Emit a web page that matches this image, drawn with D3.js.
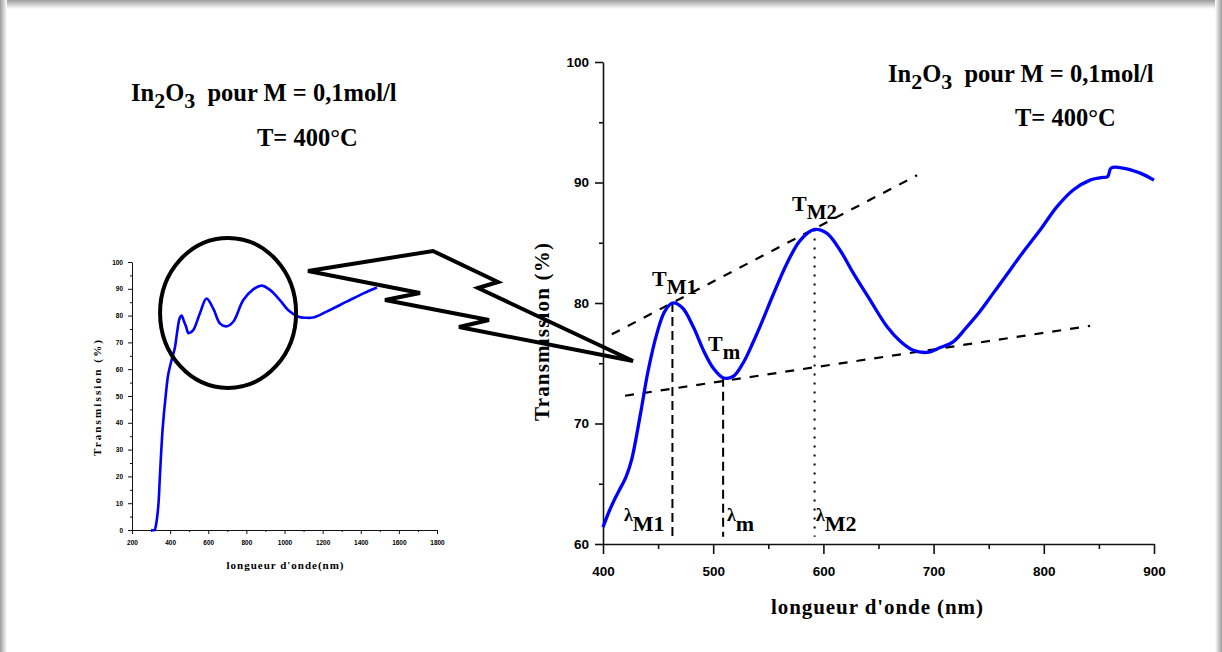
<!DOCTYPE html>
<html>
<head>
<meta charset="utf-8">
<script src="https://cdn.jsdelivr.net/npm/d3@7/dist/d3.min.js"></script>
<style>
  body { margin: 0; background: #fff; }
  svg text { font-family: "Liberation Serif", "Times New Roman", serif; font-weight: bold; fill: #000; }
  .axis .tick text { font-family: "Liberation Sans", Arial, sans-serif; font-weight: bold; }
</style>
</head>
<body>
<svg id="fig" width="1222" height="652"></svg>
<script>
// ---- data ----
// zoomed spectrum (right panel), 400-900 nm
const zoomWavelength = [400, 406, 411, 415, 421, 426, 434, 441, 449, 456, 463, 472, 482, 491, 500, 509, 518, 527, 536, 545,
  554, 567, 579, 592, 603, 615, 627, 642, 658, 670, 681, 694, 706, 718, 730, 742, 754, 766, 781, 797,
  812, 827, 842, 852, 858, 861, 872, 887, 900];
const zoomTransmission = [61.4, 62.8, 63.8, 64.5, 65.6, 67.0, 70.8, 74.4, 77.5, 79.3, 80.0, 79.6, 78.0, 76.1, 74.6, 73.8, 73.9, 75.0, 76.7, 78.6,
  80.6, 83.3, 85.2, 86.1, 85.8, 84.4, 82.5, 80.3, 78.0, 76.8, 76.1, 75.9, 76.3, 76.8, 78.0, 79.3, 80.8, 82.3, 84.2, 86.1,
  88.0, 89.4, 90.2, 90.4, 90.5, 91.2, 91.2, 90.8, 90.2];

// full spectrum (left panel)
const fullWavelength = [300, 318, 326, 338, 347, 361, 378, 390, 408, 425, 437, 450, 460, 472, 483, 496, 510, 525, 557, 591,
  627, 662, 697, 731, 784, 836, 880, 924, 976, 1020, 1073, 1110, 1151, 1221, 1326, 1414, 1485];
const fullTransmission = [0, 0, 2, 9, 21, 38, 51, 58, 63.5, 68, 74, 79, 80, 78, 76, 73.5, 73.8, 75, 81, 86.4,
  82.5, 77, 76, 77.7, 85.8, 89.8, 91.2, 89.6, 85.8, 82, 79.6, 79.2, 79.3, 81.5, 85.2, 88.3, 90.5];

// ticks
const bigXTicks = [400, 500, 600, 700, 800, 900];
const bigXMinor = [450, 550, 650, 750, 850];
const bigYTicks = [60, 70, 80, 90, 100];
const bigYMinor = [65, 75, 85, 95];
const smallXTicks = [200, 400, 600, 800, 1000, 1200, 1400, 1600, 1800];
const smallXMinor = [300, 500, 700, 900, 1100, 1300, 1500, 1700];
const smallYTicks = [0, 10, 20, 30, 40, 50, 60, 70, 80, 90, 100];
const smallYMinor = [5, 15, 25, 35, 45, 55, 65, 75, 85, 95];

// extrema and envelope lines (nm, %)
const extremaNames = ['M1', 'm', 'M2'];
const extremaWavelength = [463, 509, 592];
const extremaTransmission = [80.0, 73.8, 86.1];
const envelopeMax = [[408, 77.4], [685, 90.6]];
const envelopeMin = [[420, 72.3], [842, 78.1]];

class SpectrumChart {

  /**
   * Small axis + blue curve panel
   */
  constructor(_config, _x, _y) {
    this.config = {
      parentElement: _config.parentElement,
      left: _config.left,
      top: _config.top,
      width: _config.width,
      height: _config.height,
      xDomain: _config.xDomain,
      yDomain: _config.yDomain,
      xTicks: _config.xTicks, xMinor: _config.xMinor,
      yTicks: _config.yTicks, yMinor: _config.yMinor,
      xMajor: _config.xMajor || 10, xMinorSize: _config.xMinorSize || 5,
      yMajor: _config.yMajor || 8, yMinorSize: _config.yMinorSize || 4,
      xPad: _config.xPad || 10, yPad: _config.yPad || 6,
      tickFont: _config.tickFont || 13,
      axisWidth: _config.axisWidth || 1.5,
      lineWidth: _config.lineWidth || 3
    };
    this.xData = _x;
    this.yData = _y;
    this.initVis();
  }

  initVis() {
    let vis = this;
    const c = vis.config;

    vis.xScale = d3.scaleLinear().domain(c.xDomain).range([0, c.width]);
    vis.yScale = d3.scaleLinear().domain(c.yDomain).range([c.height, 0]);

    vis.chart = d3.select(c.parentElement).append('g')
        .attr('transform', `translate(${c.left},${c.top})`);

    // minor ticks first, then the major axis with labels
    vis.chart.append('g')
        .attr('class', 'axis minor')
        .attr('transform', `translate(0,${c.height})`)
        .call(d3.axisBottom(vis.xScale).tickValues(c.xMinor).tickSize(c.xMinorSize).tickFormat(''));
    vis.chart.append('g')
        .attr('class', 'axis minor')
        .call(d3.axisLeft(vis.yScale).tickValues(c.yMinor).tickSize(c.yMinorSize).tickFormat(''));

    vis.xAxisG = vis.chart.append('g')
        .attr('class', 'axis x-axis')
        .attr('transform', `translate(0,${c.height})`)
        .call(d3.axisBottom(vis.xScale).tickValues(c.xTicks).tickFormat(d3.format('d'))
          .tickSize(c.xMajor).tickSizeOuter(0).tickPadding(c.xPad));
    vis.yAxisG = vis.chart.append('g')
        .attr('class', 'axis y-axis')
        .call(d3.axisLeft(vis.yScale).tickValues(c.yTicks).tickFormat(d3.format('d'))
          .tickSize(c.yMajor).tickSizeOuter(0).tickPadding(c.yPad));

    vis.chart.selectAll('.axis text').attr('font-size', c.tickFont).attr('fill', '#000');
    vis.chart.selectAll('.axis line, .axis path').attr('stroke', '#111').attr('stroke-width', c.axisWidth);
    vis.chart.selectAll('.minor path').remove();
    vis.chart.selectAll('.axis').attr('font-family', null);
  }

  renderVis() {
    let vis = this;
    const pts = vis.xData.map((x, i) => [x, vis.yData[i]]);
    const line = d3.line()
        .x(d => vis.xScale(d[0]))
        .y(d => vis.yScale(d[1]))
        .curve(d3.curveCatmullRom.alpha(0.5));
    vis.chart.append('path')
        .datum(pts)
        .attr('fill', 'none')
        .attr('stroke', '#0000ff')
        .attr('stroke-width', vis.config.lineWidth)
        .attr('stroke-linejoin', 'round')
        .attr('d', line);
  }
}

const svg = d3.select('#fig');

// soft grey frame around the page
const defs = svg.append('defs');
function grad(id, x1, y1, x2, y2) {
  const g = defs.append('linearGradient').attr('id', id)
      .attr('x1', x1).attr('y1', y1).attr('x2', x2).attr('y2', y2);
  g.append('stop').attr('offset', '0%').attr('stop-color', '#9c9c9c');
  g.append('stop').attr('offset', '100%').attr('stop-color', '#ffffff');
}
grad('gTop', 0, 0, 0, 1);
grad('gLeft', 0, 0, 1, 0);
grad('gRight', 1, 0, 0, 0);
svg.append('rect').attr('width', 1222).attr('height', 652).attr('fill', '#fff');
svg.append('rect').attr('x', 0).attr('y', 0).attr('width', 1222).attr('height', 9).attr('fill', 'url(#gTop)');
svg.append('rect').attr('x', 0).attr('y', 0).attr('width', 7).attr('height', 652).attr('fill', 'url(#gLeft)');
svg.append('rect').attr('x', 1215).attr('y', 0).attr('width', 7).attr('height', 652).attr('fill', 'url(#gRight)');

// ---- right panel ----
const big = new SpectrumChart({
  parentElement: '#fig',
  left: 603, top: 62, width: 551, height: 482,
  xDomain: [400, 900], yDomain: [60, 100],
  xTicks: bigXTicks, xMinor: bigXMinor, yTicks: bigYTicks, yMinor: bigYMinor,
  xMajor: 10, xMinorSize: 5, yMajor: 8, yMinorSize: 4,
  xPad: 12, yPad: 6, tickFont: 13.5, axisWidth: 1.6, lineWidth: 3.3
}, zoomWavelength, zoomTransmission);

// envelope tangents and vertical guides (under the curve)
const bx = big.xScale, by = big.yScale;
const guides = big.chart.append('g').attr('stroke', '#000').attr('fill', 'none');
[envelopeMax, envelopeMin].forEach(seg => {
  guides.append('line')
      .attr('x1', bx(seg[0][0])).attr('y1', by(seg[0][1]))
      .attr('x2', bx(seg[1][0])).attr('y2', by(seg[1][1]))
      .attr('stroke-width', 2.2)
      .attr('stroke-dasharray', '9,9');
});
extremaWavelength.forEach((w, i) => {
  guides.append('line')
      .attr('x1', bx(w)).attr('y1', by(extremaTransmission[i]))
      .attr('x2', bx(w)).attr('y2', by(60.6))
      .attr('stroke-width', 2)
      .attr('stroke-dasharray', i === 2 ? '2,7' : '9,5');
});
big.renderVis();

// axis titles
svg.append('text')
    .attr('x', 877).attr('y', 614)
    .attr('text-anchor', 'middle')
    .attr('font-size', 21)
    .attr('textLength', 212)
    .text("longueur d'onde (nm)");
svg.append('text')
    .attr('transform', 'translate(549,332) rotate(-90)')
    .attr('text-anchor', 'middle')
    .attr('font-size', 21)
    .attr('textLength', 178)
    .text('Transmission (%)');

// ---- left panel ----
const small = new SpectrumChart({
  parentElement: '#fig',
  left: 132, top: 262, width: 305, height: 268,
  xDomain: [200, 1800], yDomain: [0, 100],
  xTicks: smallXTicks, xMinor: smallXMinor, yTicks: smallYTicks, yMinor: smallYMinor,
  xMajor: 4, xMinorSize: 2, yMajor: 4, yMinorSize: 2,
  xPad: 6, yPad: 5, tickFont: 6.5, axisWidth: 1, lineWidth: 2.6
}, fullWavelength, fullTransmission);
small.renderVis();

svg.append('text')
    .attr('x', 285).attr('y', 569)
    .attr('text-anchor', 'middle')
    .attr('font-size', 11)
    .attr('textLength', 117)
    .text("longueur d'onde(nm)");
svg.append('text')
    .attr('transform', 'translate(101,398) rotate(-90)')
    .attr('text-anchor', 'middle')
    .attr('font-size', 11)
    .attr('textLength', 116)
    .text('Transmission (%)');

// ---- titles ----
function title(x, y, x2, y2) {
  const t = svg.append('text').attr('x', x).attr('y', y).attr('font-size', 24.5);
  t.append('tspan').text('In');
  t.append('tspan').attr('dy', 7).attr('font-size', 22).text('2');
  t.append('tspan').attr('dy', -7).text('O');
  t.append('tspan').attr('dy', 7).attr('font-size', 22).text('3');
  t.append('tspan').attr('dy', -7).text('\u00a0 pour M = 0,1mol/l');
  svg.append('text').attr('x', x2).attr('y', y2).attr('font-size', 24.5).text('T= 400\u00b0C');
}
title(131, 101, 257, 146);
title(888, 82, 1015, 126);

// ---- peak / valley labels ----
function tLabel(x, y, sub) {
  const t = svg.append('text').attr('x', x).attr('y', y).attr('font-size', 22);
  t.append('tspan').text('T');
  t.append('tspan').attr('dy', 8).attr('font-size', 21).text(sub);
}
tLabel(652, 286, 'M1');
tLabel(708, 351, 'm');
tLabel(792, 211, 'M2');

function lambdaLabel(x, y, sub) {
  const t = svg.append('text').attr('x', x).attr('y', y).attr('font-size', 18);
  t.append('tspan').text('\u03bb');
  t.append('tspan').attr('dy', 10).attr('font-size', 22).text(sub);
}
lambdaLabel(624, 521, 'M1');
lambdaLabel(727, 521, 'm');
lambdaLabel(816, 521, 'M2');

// ---- zoom circle and lightning arrow ----
svg.append('ellipse')
    .attr('cx', small.xScale(704) + 132).attr('cy', small.yScale(81) + 262)
    .attr('rx', 68).attr('ry', 75)
    .attr('fill', 'none').attr('stroke', '#000').attr('stroke-width', 4);

const boltPoints = [[308, 271], [433, 251], [498, 282], [478, 288], [633, 361],
  [459, 327], [489, 320], [385, 300], [420, 293]];
svg.append('polygon')
    .attr('points', boltPoints.map(p => p.join(',')).join(' '))
    .attr('fill', 'none').attr('stroke', '#000').attr('stroke-width', 4)
    .attr('stroke-linejoin', 'miter');
</script>
</body>
</html>
